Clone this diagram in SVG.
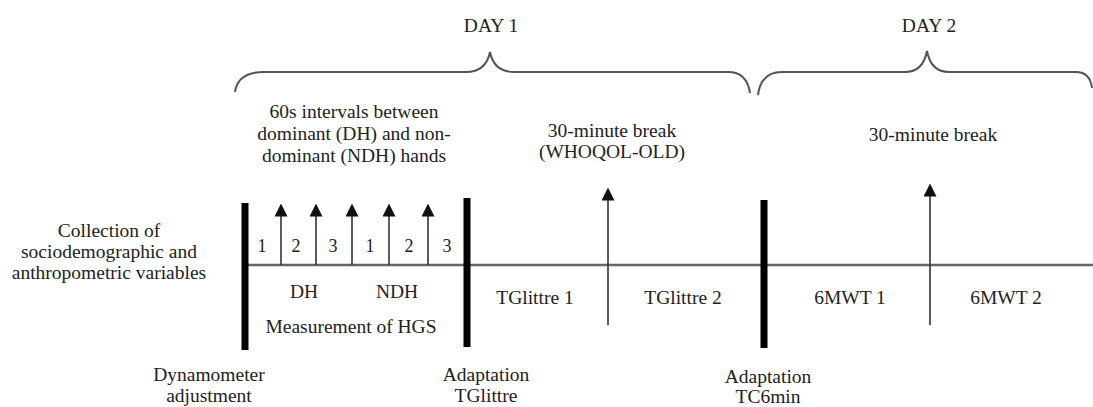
<svg xmlns="http://www.w3.org/2000/svg" width="1093" height="407" viewBox="0 0 1093 407" font-family="Liberation Serif, Times New Roman, serif">
<style>
text{font-size:19.5px;fill:#222;text-anchor:middle}
.num{font-size:18px}
.brace{fill:none;stroke:#555;stroke-width:2}
.main{stroke:#666;stroke-width:2.5}
.bar{stroke:#000;stroke-width:7}
.arr{stroke:#333;stroke-width:1.6}
</style>
<defs>
<marker id="ah" viewBox="0 0 13 13" refX="0.5" refY="6.5" markerWidth="13" markerHeight="13" markerUnits="userSpaceOnUse" orient="auto">
<path d="M0,0 L13,6.5 L0,13 z" fill="#111"/>
</marker>
</defs>
<rect width="1093" height="407" fill="#fff"/>

<g id="day1">
<text x="491" y="32">DAY 1</text>
<path class="brace" d="M235,92 Q238,72 264,72 H466 Q486,72 490,52 Q494,72 514,72 H728 Q747,72 750,93"/>
</g>
<g id="day2">
<text x="929" y="32">DAY 2</text>
<path class="brace" d="M758,95 Q761,72 782,72 H905 Q923,72 927,51 Q931,72 949,72 H1076 Q1090,72 1092,88"/>
</g>

<g id="intervals-note">
<text x="354" y="118">60s intervals between</text>
<text x="354" y="140">dominant (DH) and non-</text>
<text x="354" y="162">dominant (NDH) hands</text>
</g>
<g id="break1-note">
<text x="612" y="137">30-minute break</text>
<text x="612" y="158">(WHOQOL-OLD)</text>
</g>
<g id="break2-note">
<text x="933" y="141">30-minute break</text>
</g>
<g id="collection">
<text x="109" y="237">Collection of</text>
<text x="109" y="258">sociodemographic and</text>
<text x="109" y="279">anthropometric variables</text>
</g>

<g id="connectors">
<line class="main" x1="245" y1="265" x2="1093" y2="265"/>
<line class="arr" x1="281" y1="265" x2="281" y2="216" marker-end="url(#ah)"/>
<line class="arr" x1="316" y1="265" x2="316" y2="216" marker-end="url(#ah)"/>
<line class="arr" x1="352" y1="265" x2="352" y2="216" marker-end="url(#ah)"/>
<line class="arr" x1="389" y1="265" x2="389" y2="216" marker-end="url(#ah)"/>
<line class="arr" x1="428" y1="265" x2="428" y2="216" marker-end="url(#ah)"/>
<line class="arr" x1="608" y1="325" x2="608" y2="200" marker-end="url(#ah)"/>
<line class="arr" x1="930" y1="325" x2="930" y2="196" marker-end="url(#ah)"/>
</g>

<g id="bar-dynamometer">
<line class="bar" x1="245" y1="203" x2="245" y2="350"/>
<text x="209" y="381">Dynamometer</text>
<text x="209" y="402">adjustment</text>
</g>
<g id="bar-tglittre">
<line class="bar" x1="467" y1="198" x2="467" y2="347"/>
<text x="486" y="381">Adaptation</text>
<text x="486" y="402">TGlittre</text>
</g>
<g id="bar-tc6min">
<line class="bar" x1="764" y1="200" x2="764" y2="348"/>
<text x="768" y="383">Adaptation</text>
<text x="768" y="403">TC6min</text>
</g>

<g id="hgs">
<text class="num" x="262" y="252">1</text>
<text class="num" x="296" y="252">2</text>
<text class="num" x="333" y="252">3</text>
<text class="num" x="370" y="252">1</text>
<text class="num" x="409" y="252">2</text>
<text class="num" x="447" y="252">3</text>
<text x="304" y="298">DH</text>
<text x="397" y="298">NDH</text>
<text x="351" y="333">Measurement of HGS</text>
</g>

<g id="tglittre-tests">
<text x="535" y="304">TGlittre 1</text>
<text x="683" y="304">TGlittre 2</text>
</g>
<g id="walk-tests">
<text x="850" y="304">6MWT 1</text>
<text x="1006" y="304">6MWT 2</text>
</g>
</svg>
